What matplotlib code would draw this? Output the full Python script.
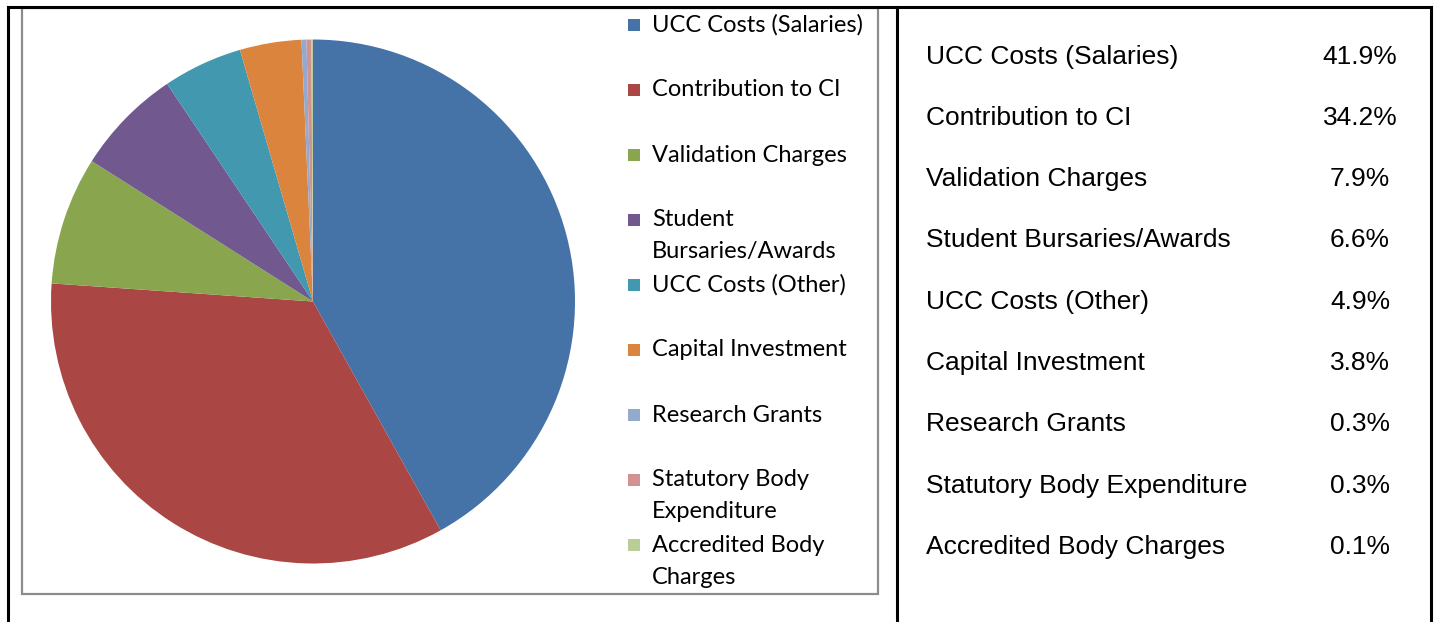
import matplotlib.pyplot as plt
from matplotlib.patches import Rectangle
from matplotlib.lines import Line2D

# data
categories = ['UCC Costs (Salaries)', 'Contribution to CI', 'Validation Charges',
              'Student Bursaries/Awards', 'UCC Costs (Other)', 'Capital Investment',
              'Research Grants', 'Statutory Body Expenditure', 'Accredited Body Charges']
legend_labels = ['UCC Costs (Salaries)', 'Contribution to CI', 'Validation Charges',
                 'Student\nBursaries/Awards', 'UCC Costs (Other)', 'Capital Investment',
                 'Research Grants', 'Statutory Body\nExpenditure', 'Accredited Body\nCharges']
shares = [41.9, 34.2, 7.9, 6.6, 4.9, 3.8, 0.3, 0.3, 0.1]
colors = ['#4572A7', '#AA4643', '#89A54E', '#71588F', '#4198AF',
          '#DB843D', '#93A9CF', '#D19392', '#B9CD96']

W, H = 1438, 622
fig = plt.figure(figsize=(W / 100, H / 100), dpi=100)


def px(x, y):
    # pixel (from top-left) to figure fraction
    return x / W, 1 - y / H


# frame lines of the table
for (x0, y0, x1, y1) in [(8, 7, 1431, 7), (8, 7, 8, 622), (897, 7, 897, 622), (1431, 7, 1431, 622)]:
    a, b = px(x0, y0)
    c, d = px(x1, y1)
    fig.add_artist(Line2D([a, c], [b, d], color='black', lw=2.2, transform=fig.transFigure))

# grey chart box
bx, by = px(22, 594)
fig.add_artist(Rectangle((bx, by), (878 - 22) / W, (594 - 8) / H, fill=False,
                         edgecolor='#8c8c8c', lw=1.6, transform=fig.transFigure))

# pie
cx, cy, r = 313, 301.5, 262
l, b = px(cx - r, cy + r)
ax = fig.add_axes([l, b, 2 * r / W, 2 * r / H])
ax.pie(shares, colors=colors, startangle=90, counterclock=False, radius=1,
       wedgeprops={'linewidth': 0})
ax.set_xlim(-1, 1)
ax.set_ylim(-1, 1)
ax.set_aspect('auto')
ax.axis('off')

# legend inside chart box
legend_y = [25, 90, 155, 220, 285, 350, 415, 480, 545]
for lab, c, y in zip(legend_labels, colors, legend_y):
    mx, my = px(628, y + 6)
    fig.add_artist(Rectangle((mx, my), 12 / W, 12 / H, facecolor=c, edgecolor='none',
                             transform=fig.transFigure))
    for i, line in enumerate(lab.split('\n')):
        tx, ty = px(652, y + 32 * i)
        fig.text(tx, ty, line, fontsize=17, family='Lato', va='center', ha='left')

# table on the right
row_y = [57, 118, 179, 240, 302, 363, 424, 486, 547]
for name, v, y in zip(categories, shares, row_y):
    tx, ty = px(926, y)
    fig.text(tx, ty, name, fontsize=19, family='Liberation Sans', va='center', ha='left')
    vx, vy = px(1360, y)
    fig.text(vx, vy, f'{v:.1f}%', fontsize=19, family='Liberation Sans', va='center', ha='center')

fig.savefig('out.png', dpi=100)
